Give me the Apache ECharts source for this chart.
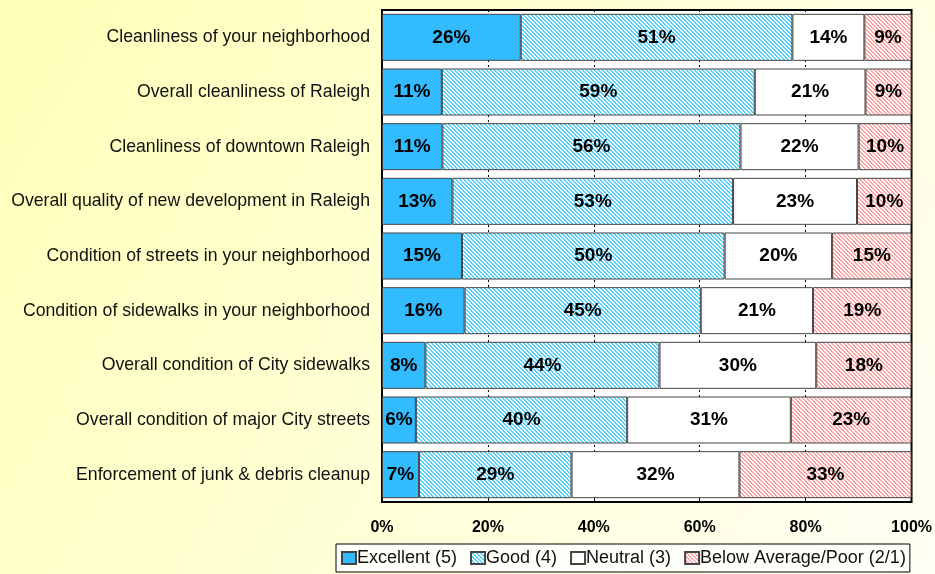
<!DOCTYPE html>
<html>
<head>
<meta charset="utf-8">
<script src="https://cdn.jsdelivr.net/npm/echarts@6/dist/echarts.min.js"></script>
<style>
  html, body { margin: 0; padding: 0; }
  #chart { width: 935px; height: 574px; }
</style>
</head>
<body>
<div id="chart"></div>
<script>
// categories, top to bottom
var categories = [
    'Cleanliness of your neighborhood',
    'Overall cleanliness of Raleigh',
    'Cleanliness of downtown Raleigh',
    'Overall quality of new development in Raleigh',
    'Condition of streets in your neighborhood',
    'Condition of sidewalks in your neighborhood',
    'Overall condition of City sidewalks',
    'Overall condition of major City streets',
    'Enforcement of junk & debris cleanup'
];
var seriesNames = ['Excellent (5)', 'Good (4)', 'Neutral (3)', 'Below Average/Poor (2/1)'];
// percentages
var excellent = [26.2, 11.3, 11.4, 13.3, 15.1, 15.6, 8.2, 6.4, 7.0];
var good      = [51.3, 59.1, 56.3, 53.0, 49.6, 44.6, 44.2, 39.9, 28.8];
var neutral   = [13.6, 20.9, 22.3, 23.4, 20.3, 21.2, 29.6, 30.9, 31.7];
var poor      = [8.9, 8.7, 10.0, 10.3, 15.0, 18.6, 18.0, 22.8, 32.5];
var xTicks = [0, 20, 40, 60, 80, 100];

(function(){
    var font = 'Arial, "Liberation Sans", sans-serif';

    //斜线填充
    function hatch(color) {
        var c = document.createElement('canvas');
        c.width = 4; c.height = 4;
        var ctx = c.getContext('2d');
        ctx.fillStyle = '#fff';
        ctx.fillRect(0, 0, 4, 4);
        ctx.fillStyle = color;
        for (var x = 0; x < 4; x++) {
            for (var y = 0; y < 4; y++) {
                var d = ((x - y) % 4 + 4) % 4;
                if (d === 0 || d === 1) ctx.fillRect(x, y, 1, 1);
            }
        }
        return { image: c, repeat: 'repeat' };
    }

    var fills = ['#33bbff', hatch('#55d2ff'), '#ffffff', hatch('#ffa3a3')];
    var values = [excellent, good, neutral, poor];

    var myChart = echarts.init(document.getElementById('chart'));
    var option = {
        backgroundColor: new echarts.graphic.LinearGradient(0, 0, 1, 1, [
            { offset: 0, color: '#ffffb8' },
            { offset: 1, color: '#fffff4' }
        ]),
        animation: false,
        textStyle: { fontFamily: font },
        legend: {
            left: 336,
            bottom: 2,
            padding: [5, 4, 5, 5],
            itemGap: 13,
            itemWidth: 14,
            itemHeight: 12,
            icon: 'rect',
            borderColor: '#000',
            borderWidth: 1,
            borderRadius: 0,
            backgroundColor: '#fffffa',
            textStyle: { fontSize: 18, color: '#111', padding: [0, 0, 0, -4] },
            data: seriesNames
        },
        grid: {
            left: 382,
            right: 23,
            top: 10,
            bottom: 72,
            show: true,
            backgroundColor: '#fff',
            borderColor: '#000',
            borderWidth: 2
        },
        xAxis: {
            type: 'value',
            min: 0,
            max: 100,
            interval: 20,
            axisLine: { show: false },
            axisTick: { show: true, inside: true, length: 4, lineStyle: { color: '#000' } },
            axisLabel: {
                margin: 18,
                fontSize: 16,
                fontWeight: 'bold',
                color: '#000',
                formatter: function (v) { return xTicks.indexOf(v) >= 0 ? v + '%' : ''; }
            },
            splitLine: { show: true, lineStyle: { color: '#000', type: [2, 3], width: 1 } }
        },
        yAxis: {
            type: 'category',
            inverse: true,
            data: categories,
            axisLine: { show: false },
            axisTick: { show: false },
            axisLabel: { margin: 12, fontSize: 17.7, color: '#111' }
        },
        series: seriesNames.map(function (name, i) {
            return {
                name: name,
                type: 'bar',
                stack: 'total',
                barCategoryGap: '14%',
                data: values[i],
                itemStyle: { color: fills[i], borderColor: '#444', borderWidth: 1 },
                label: {
                    show: true,
                    position: 'inside',
                    fontSize: 19,
                    fontWeight: 'bold',
                    color: '#000',
                    formatter: function (p) { return Math.round(p.value) + '%'; }
                }
            };
        })
    };
    myChart.setOption(option);
    window.addEventListener("resize", function() {
        myChart.resize();
    });
})();
</script>
</body>
</html>
